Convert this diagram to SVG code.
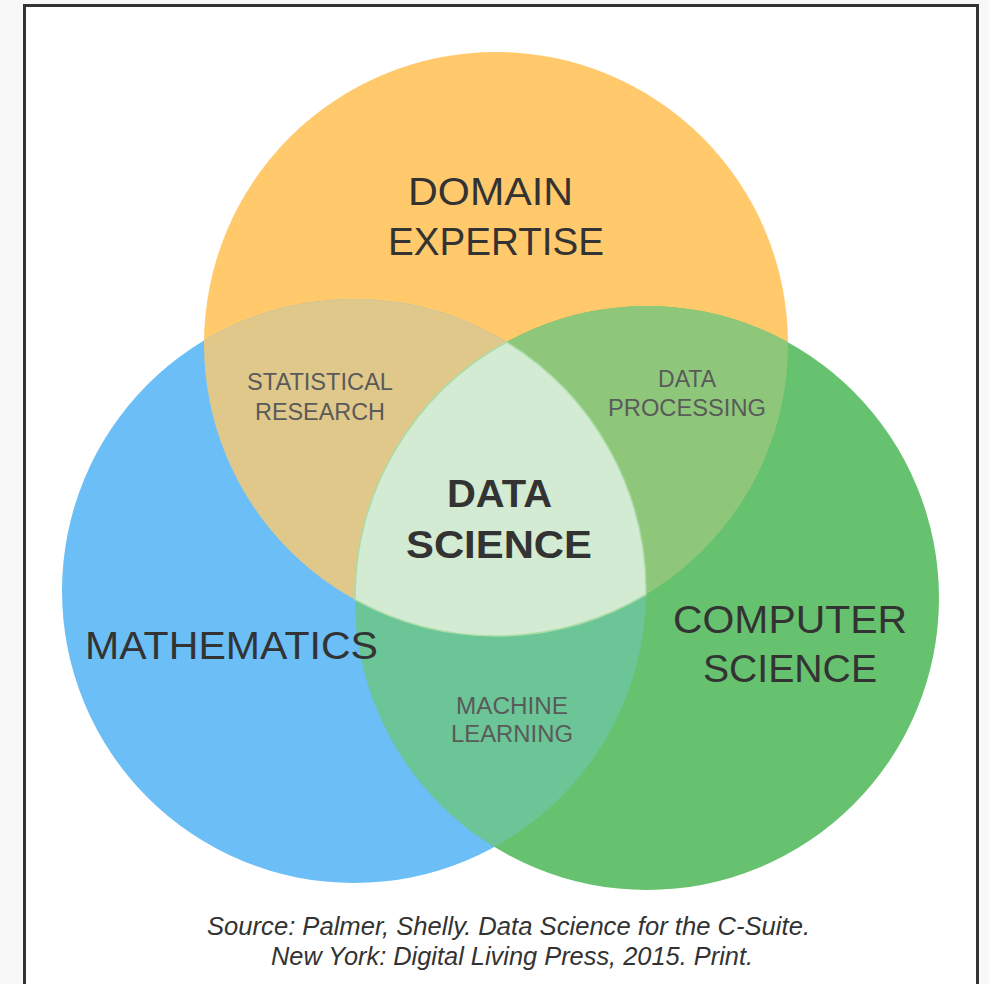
<svg xmlns="http://www.w3.org/2000/svg" width="989" height="984" viewBox="0 0 989 984">
<style>
.big{font-family:"Liberation Sans",Arial,Helvetica,sans-serif;font-size:39px;fill:#333;text-anchor:middle}
.bold{font-weight:bold}
.small{font-family:"Liberation Sans",Arial,Helvetica,sans-serif;font-size:23px;fill:#5a5a5a;text-anchor:middle}
.src{font-family:"Liberation Sans",Arial,Helvetica,sans-serif;font-size:25px;font-style:italic;fill:#333;text-anchor:middle}
</style>
<defs>
<clipPath id="clipO"><circle cx="496" cy="344" r="292"/></clipPath>
<clipPath id="clipB"><circle cx="354" cy="591" r="292"/></clipPath>
</defs>
<rect x="0" y="0" width="989" height="984" fill="#f8f8f8"/>
<rect x="24.5" y="5.5" width="953" height="1000" fill="#fff" stroke="#333" stroke-width="3"/>
<g id="domain">
<circle cx="496" cy="344" r="292" fill="#FFC96C"/>
</g>
<g id="math">
<circle cx="354" cy="591" r="292" fill="#6BBFF6"/>
</g>
<g id="cs">
<circle cx="647" cy="598" r="292" fill="#66C26F"/>
</g>
<g id="statistical-research">
<circle cx="354" cy="591" r="292" fill="#E0C88A" clip-path="url(#clipO)"/>
</g>
<g id="data-processing">
<circle cx="647" cy="598" r="292" fill="#8EC77A" clip-path="url(#clipO)"/>
</g>
<g id="machine-learning">
<circle cx="647" cy="598" r="292" fill="#6CC596" clip-path="url(#clipB)"/>
</g>
<g id="data-science">
<path d="M506.5,342 A292,292 0 0,0 355,599.7 A292,292 0 0,0 646,594.5 A292,292 0 0,0 506.5,342 Z" fill="#D3EBD2" stroke="#A9DCA6" stroke-width="1.5"/>
</g>
<g id="connectors"></g>
<g id="labels">
<text class="big" x="490.5" y="205" textLength="165" lengthAdjust="spacingAndGlyphs">DOMAIN</text>
<text class="big" x="496" y="255" textLength="216" lengthAdjust="spacingAndGlyphs">EXPERTISE</text>
<text class="big" x="231.5" y="659" textLength="293" lengthAdjust="spacingAndGlyphs">MATHEMATICS</text>
<text class="big" x="790" y="633" textLength="234" lengthAdjust="spacingAndGlyphs">COMPUTER</text>
<text class="big" x="790" y="682" textLength="174" lengthAdjust="spacingAndGlyphs">SCIENCE</text>
<text class="big bold" x="499.5" y="507" textLength="105" lengthAdjust="spacingAndGlyphs">DATA</text>
<text class="big bold" x="499" y="558" textLength="186" lengthAdjust="spacingAndGlyphs">SCIENCE</text>
<text class="small" x="320" y="390" textLength="146" lengthAdjust="spacingAndGlyphs">STATISTICAL</text>
<text class="small" x="320" y="420" textLength="130" lengthAdjust="spacingAndGlyphs">RESEARCH</text>
<text class="small" x="687" y="387" textLength="58" lengthAdjust="spacingAndGlyphs">DATA</text>
<text class="small" x="687" y="416" textLength="158" lengthAdjust="spacingAndGlyphs">PROCESSING</text>
<text class="small" x="512" y="714" textLength="112" lengthAdjust="spacingAndGlyphs">MACHINE</text>
<text class="small" x="512" y="742" textLength="122" lengthAdjust="spacingAndGlyphs">LEARNING</text>
<text class="src" x="508.5" y="935" textLength="603" lengthAdjust="spacingAndGlyphs">Source: Palmer, Shelly. Data Science for the C-Suite.</text>
<text class="src" x="512" y="965" textLength="482" lengthAdjust="spacingAndGlyphs">New York: Digital Living Press, 2015. Print.</text>
</g>
</svg>
